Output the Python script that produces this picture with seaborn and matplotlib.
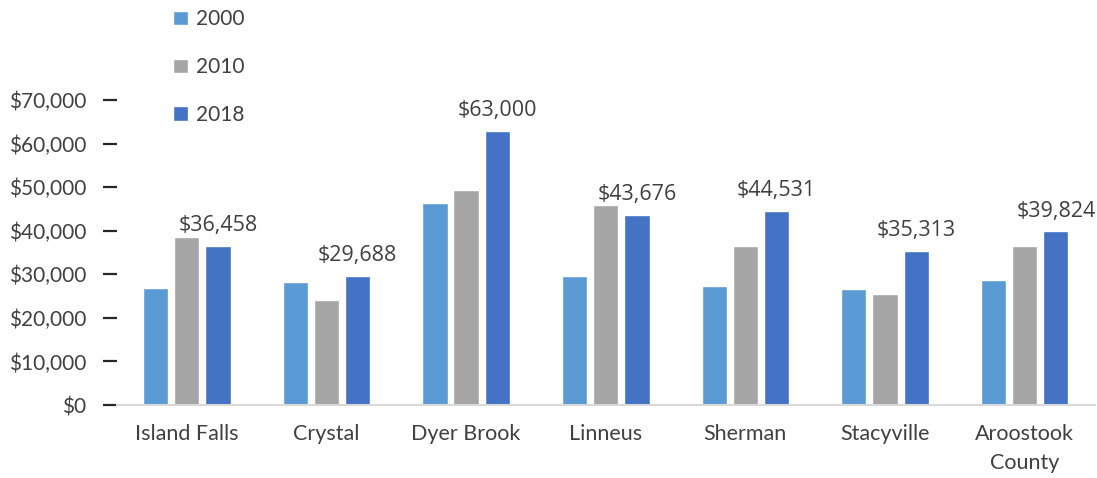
import matplotlib
matplotlib.use("Agg")
import matplotlib.pyplot as plt
import seaborn as sns
import pandas as pd

# Median household income by place
places = ["Island Falls", "Crystal", "Dyer Brook", "Linneus", "Sherman",
          "Stacyville", "Aroostook\nCounty"]
years = ["2000", "2010", "2018"]
income_2000 = [26850, 28200, 46400, 29600, 27300, 26600, 28700]
income_2010 = [38600, 24100, 49300, 45900, 36500, 25500, 36500]
income_2018 = [36458, 29688, 63000, 43676, 44531, 35313, 39824]
yticks = [0, 10000, 20000, 30000, 40000, 50000, 60000, 70000]

colors = ["#5B9BD5", "#A5A5A5", "#4472C4"]
text_color = "#404040"

df = pd.DataFrame({
    "place": places * 3,
    "year": [y for y in years for _ in places],
    "income": income_2000 + income_2010 + income_2018,
})

sns.set_style("white")
plt.rcParams["font.family"] = ["Lato", "DejaVu Sans"]

fig = plt.figure(figsize=(10.97, 4.78), dpi=100)
W, H = 1097, 478
ax = fig.add_axes([117 / W, (H - 405) / H, (1094.5 - 117) / W, (405 - 100) / H])

sns.barplot(data=df, x="place", y="income", hue="year", order=places,
            hue_order=years, palette=colors, width=0.67, gap=0.19,
            saturation=1, ax=ax, legend=True)

ax.set_ylim(0, 70000)
ax.set_xlim(-0.5, len(places) - 0.5)
ax.set_yticks(yticks)
ax.set_yticklabels([f"${v:,.0f}" for v in yticks])
ax.set_xlabel("")
ax.set_ylabel("")

for s in ["top", "right", "left"]:
    ax.spines[s].set_visible(False)
ax.spines["bottom"].set_color("#D9D9D9")
ax.spines["bottom"].set_linewidth(1.5)

ax.tick_params(axis="y", left=True, direction="out", length=10, width=1.6,
               color="#262626", pad=12, labelsize=15, labelcolor=text_color)
ax.tick_params(axis="x", bottom=False, length=0, pad=14, labelsize=15.5,
               labelcolor=text_color)
for lbl in ax.get_xticklabels():
    lbl.set_linespacing(1.55)
    lbl.set_verticalalignment("top")

# value labels on the latest year
ax.bar_label(ax.containers[2], labels=[f"${v:,.0f}" for v in income_2018],
             padding=7, fontsize=15.5, color=text_color,
             family=["Open Sans", "DejaVu Sans"])

leg = ax.legend(loc="upper left", bbox_to_anchor=(163 / W, 1 + 1 / H),
                bbox_transform=fig.transFigure, frameon=False,
                fontsize=15, handlelength=0.7, handleheight=0.7,
                handletextpad=0.4, labelspacing=1.33, borderpad=0)
for t in leg.get_texts():
    t.set_color(text_color)

fig.savefig("out.png", dpi=100)
